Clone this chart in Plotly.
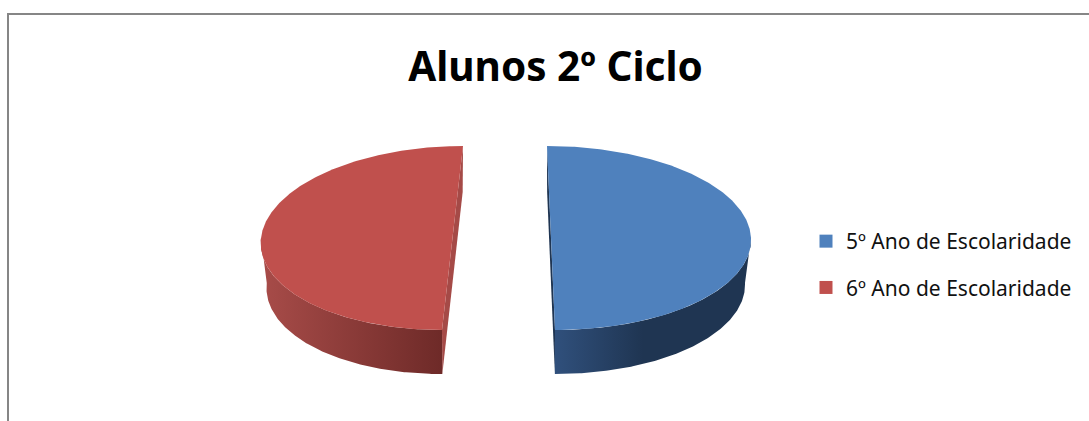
import numpy as np
import plotly.graph_objects as go

title = "Alunos 2º Ciclo"
categories = ["5º Ano de Escolaridade", "6º Ano de Escolaridade"]
values = [50, 50]

TOP_COLORS = ["#4f81bd", "#c0504d"]
SIDE_COLORS = ["#1f3552", "#a54a47"]
WALL_SCALES = [
    [[0, "#30507c"], [0.45, "#1f3552"], [1, "#1f3552"]],
    [[0, "#a84c49"], [1, "#6e2a28"]],
]
# projection of each exploded slice (paper pixels): centre x, x radius, cut-line lean
CX = [551, 452.5]
RX = [200, 191.5]
LEAN = [4, -10.5]
CY, RY, DEPTH = 238, 92, 45
BASE_X, BASE_Y = 0.97, 0.99

fractions = np.array(values) / sum(values)
starts = np.concatenate([[0], np.cumsum(fractions)[:-1]]) * 2 * np.pi
sweeps = fractions * 2 * np.pi


def project(i, t, base=False):
    sx = BASE_X if base else 1
    sy = BASE_Y if base else 1
    yc = CY + DEPTH if base else CY
    X, Y = np.sin(t), -np.cos(t)
    return CX[i] + RX[i] * sx * X + LEAN[i] * sx * Y, yc + RY * sy * Y


fig = go.Figure()
for i, name in enumerate(categories):
    t0, t1 = starts[i], starts[i] + sweeps[i]
    # cut face sliver: the radial edges joined through both rims
    ends = np.array([t0, t1])
    xa, ya = project(i, ends)
    xb, yb = project(i, ends, base=True)
    fig.add_trace(go.Scatter(
        x=[xa[0], xa[1], xb[1], xb[0]], y=[ya[0], ya[1], yb[1], yb[0]],
        fill="toself", fillcolor=SIDE_COLORS[i], mode="lines", line=dict(width=0),
        showlegend=False, hoverinfo="skip"))
    # outer wall: the part of the rim facing the viewer
    lo, hi = max(t0, np.pi / 2), min(t1, 3 * np.pi / 2)
    arc = np.linspace(lo, hi, 160)
    xt, yt = project(i, arc)
    xw, yw = project(i, arc[::-1], base=True)
    xs = np.r_[xt, xw]
    fig.add_trace(go.Scatter(
        x=xs, y=np.r_[yt, yw], mode="lines", line=dict(width=0), fill="toself",
        fillgradient=dict(type="horizontal", colorscale=WALL_SCALES[i],
                          start=xs.min(), stop=xs.max()),
        showlegend=False, hoverinfo="skip"))
    # top face
    arc = np.linspace(t0, t1, 320)
    xt, yt = project(i, arc)
    fig.add_trace(go.Scatter(
        x=np.r_[xt, CX[i]], y=np.r_[yt, CY], mode="lines", line=dict(width=0),
        fill="toself", fillcolor=TOP_COLORS[i], showlegend=False,
        hovertext=f"{name}: {values[i]}", hoverinfo="text"))

for i, name in enumerate(categories):
    fig.add_trace(go.Scatter(
        x=[None], y=[None], mode="markers", name=name, legendgroup=name,
        marker=dict(symbol="square", size=13, color=TOP_COLORS[i])))

fig.update_layout(
    width=1089, height=421, margin=dict(l=0, r=0, t=0, b=0),
    paper_bgcolor="white", plot_bgcolor="white",
    font=dict(family="Noto Sans", color="#111111"),
    title=dict(text=title, x=555.5 / 1089, xanchor="center", y=1 - 67 / 421, yanchor="middle",
               font=dict(family="Noto Sans", size=40.5, color="#000000", weight="bold")),
    xaxis=dict(range=[0, 1089], visible=False, domain=[0, 1], fixedrange=True),
    yaxis=dict(range=[421, 0], visible=False, domain=[0, 1], fixedrange=True),
    legend=dict(x=806 / 1089, xanchor="left", y=1 - 221 / 421, yanchor="top",
                font=dict(size=21, color="#111111"), tracegroupgap=16,
                bgcolor="rgba(0,0,0,0)", itemclick=False, itemdoubleclick=False),
    shapes=[
        dict(type="line", xref="paper", yref="paper", x0=8 / 1089, x1=1, y0=1 - 14 / 421, y1=1 - 14 / 421,
             line=dict(color="#868686", width=2)),
        dict(type="line", xref="paper", yref="paper", x0=8 / 1089, x1=8 / 1089, y0=0, y1=1 - 13 / 421,
             line=dict(color="#868686", width=2)),
    ],
)
fig.write_html("out.html", post_script="document.body.style.margin='0';", config=dict(displayModeBar=False))
